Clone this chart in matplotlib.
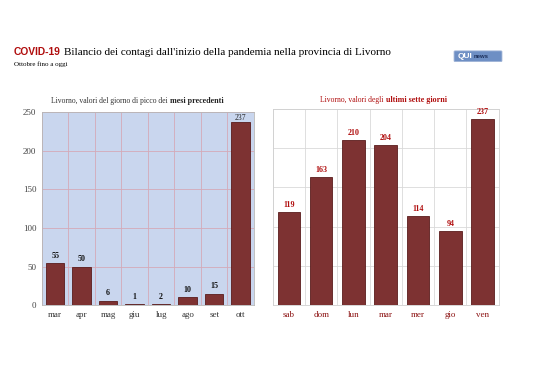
import numpy as np
import matplotlib.pyplot as plt
from matplotlib.patches import FancyBboxPatch

# data
mesi = ["mar", "apr", "mag", "giu", "lug", "ago", "set", "ott"]
picchi_mesi = [55, 50, 6, 1, 2, 10, 15, 237]
giorni = ["sab", "dom", "lun", "mar", "mer", "gio", "ven"]
valori_giorni = [119, 163, 210, 204, 114, 94, 237]
y_ticks = [0, 50, 100, 150, 200, 250]

bar_col = "#7d3232"
edge_col = "#5a1c1c"
red = "#b00d0d"
serif = "Liberation Serif"

fig = plt.figure(figsize=(5.38, 3.80), dpi=100)
fig.patch.set_facecolor("white")

# title
fig.text(0.026, 0.863, "COVID-19", fontsize=7.4, fontweight="bold", color=red,
         family="Liberation Sans", va="center")
fig.text(0.119, 0.863, "Bilancio dei contagi dall'inizio della pandemia nella provincia di Livorno",
         fontsize=8.0, family=serif, color="black", va="center")
fig.text(0.026, 0.830, "Ottobre fino a oggi", fontsize=5, family=serif, va="center")

# logo
logo = FancyBboxPatch((0.846, 0.840), 0.085, 0.024, boxstyle="round,pad=0.002",
                      transform=fig.transFigure, facecolor="#6e8fc4", edgecolor="#9fb3d6", lw=0.6)
fig.patches.append(logo)
fig.text(0.850, 0.852, "QUI", fontsize=6, fontweight="bold", color="white",
         family="Liberation Sans", va="center")
fig.text(0.881, 0.851, "news", fontsize=4.3, fontweight="bold", color="#1c2f5a",
         family="Liberation Sans", va="center")

# left chart
ax1 = fig.add_axes([0.078, 0.197, 0.394, 0.508])
ax1.set_facecolor("#c9d6ee")
x1 = np.arange(len(mesi))
ax1.bar(x1, picchi_mesi, width=0.7, color=bar_col, edgecolor=edge_col, lw=0.6, zorder=3)
ax1.set_xlim(-0.5, len(mesi) - 0.5)
ax1.set_ylim(0, 250)
ax1.set_yticks(y_ticks)
ax1.set_xticks(x1)
ax1.set_xticklabels(mesi, family=serif, fontsize=6.5, color="#333333")
ax1.set_yticklabels([str(v) for v in y_ticks], family=serif, fontsize=6.5, color="#444444")
ax1.set_xticks(np.arange(-0.5, len(mesi), 1), minor=True)
ax1.grid(True, which="major", axis="y", color="#d4a9b8", lw=0.6, zorder=0)
ax1.grid(True, which="minor", axis="x", color="#d4a9b8", lw=0.6, zorder=0)
ax1.tick_params(which="both", length=0, pad=4)
for s in ax1.spines.values():
    s.set_color("#b7b7b7")
    s.set_linewidth(0.6)
for i, v in enumerate(picchi_mesi):
    if v > 230:
        # top label sits inside the frame, like the original
        ax1.text(i, 247, str(v), ha="center", va="top", fontsize=5.5, family=serif,
                 color="#222222", zorder=4)
    else:
        ax1.text(i, v + 4, str(v), ha="center", va="bottom", fontsize=5.8, family=serif,
                 fontweight="bold", color="#111111", zorder=4)
ax1.text(0.604, 1.055, "Livorno, valori del giorno di picco dei ", transform=ax1.transAxes,
         ha="right", va="center", fontsize=5.5, family=serif, color="#333333")
ax1.text(0.604, 1.055, "mesi precedenti", transform=ax1.transAxes, ha="left", va="center",
         fontsize=5.8, family=serif, fontweight="bold", color="#222222")

# right chart
ax2 = fig.add_axes([0.507, 0.197, 0.420, 0.516])
ax2.set_facecolor("white")
x2 = np.arange(len(giorni))
ax2.bar(x2, valori_giorni, width=0.7, color=bar_col, edgecolor=edge_col, lw=0.6, zorder=3)
ax2.set_xlim(-0.5, len(giorni) - 0.5)
ax2.set_ylim(0, 250)
ax2.set_yticks(y_ticks)
ax2.set_yticklabels([])
ax2.set_xticks(x2)
ax2.set_xticklabels(giorni, family=serif, fontsize=6.5, color="#8b1010")
ax2.set_xticks(np.arange(-0.5, len(giorni), 1), minor=True)
ax2.grid(True, which="major", axis="y", color="#d9d9d9", lw=0.6, zorder=0)
ax2.grid(True, which="minor", axis="x", color="#d9d9d9", lw=0.6, zorder=0)
ax2.tick_params(which="both", length=0, pad=4)
for s in ax2.spines.values():
    s.set_color("#d0d0d0")
    s.set_linewidth(0.6)
for i, v in enumerate(valori_giorni):
    ax2.text(i, v + 4, str(v), ha="center", va="bottom", fontsize=5.8, family=serif,
             fontweight="bold", color=red, zorder=4)
ax2.text(0.5, 1.045, "Livorno, valori degli ", transform=ax2.transAxes,
         ha="right", va="center", fontsize=5.5, family=serif, color=red)
ax2.text(0.5, 1.045, "ultimi sette giorni", transform=ax2.transAxes, ha="left", va="center",
         fontsize=5.8, family=serif, fontweight="bold", color=red)

fig.savefig("out.png", dpi=100)
